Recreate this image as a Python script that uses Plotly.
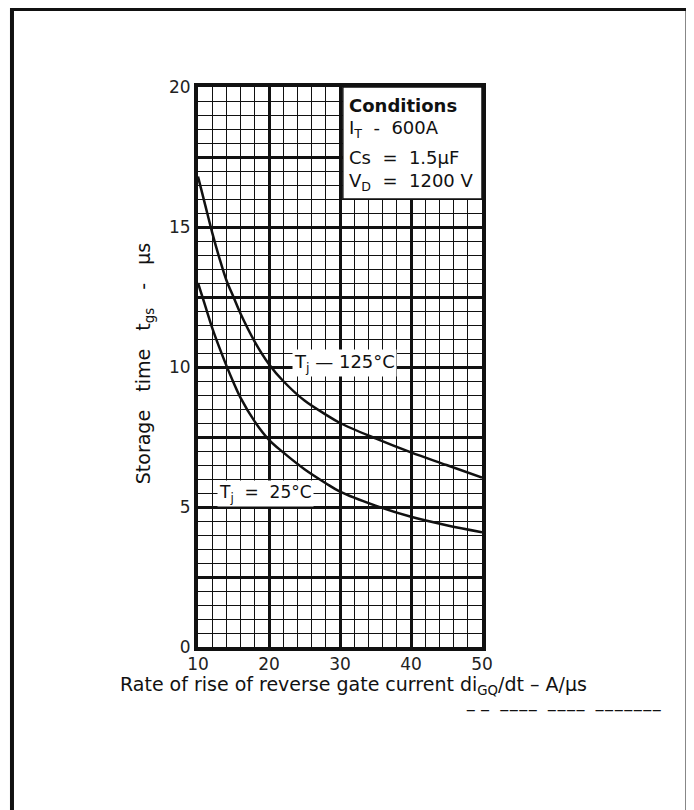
import plotly.graph_objects as go

# ---- data ----
x_125 = [10, 11, 12, 13, 14, 15, 16, 18, 20, 22, 25, 28, 30, 35, 40, 45, 50]
y_125 = [16.8, 15.8, 14.8, 13.9, 13.1, 12.5, 11.9, 10.9, 10.1, 9.5, 8.8, 8.3, 8.0, 7.45, 6.95, 6.5, 6.05]

x_25 = [10, 11, 12, 13, 14, 15, 16, 18, 20, 22, 25, 28, 30, 35, 40, 45, 50]
y_25 = [13.0, 12.2, 11.4, 10.7, 10.05, 9.45, 8.9, 8.05, 7.4, 6.95, 6.35, 5.85, 5.55, 5.05, 4.65, 4.35, 4.1]

x_tickvals = [10, 20, 30, 40, 50]
x_ticktext = ["10", "20", "30", "40", "50"]
y_tickvals = [0, 2.5, 5, 7.5, 10, 12.5, 15, 17.5, 20]
y_ticktext = ["0", "", "5", "", "10", "", "15", "", "20"]

NB = "\u00a0"
conditions = ["<b>Conditions</b>", "I<sub>T</sub> " + NB + "-" + NB + " 600A",
              "Cs " + NB + "=" + NB + " 1.5\u00b5F", "V<sub>D</sub> " + NB + "=" + NB + " 1200 V"]

FONT = "DejaVu Sans, Liberation Sans, Arial, sans-serif"
INK = "#111111"

fig = go.Figure()
fig.add_trace(go.Scatter(x=x_125, y=y_125, mode="lines", line=dict(color=INK, width=2.5, shape="spline"),
                         name="Tj = 125°C", showlegend=False))
fig.add_trace(go.Scatter(x=x_25, y=y_25, mode="lines", line=dict(color=INK, width=2.5, shape="spline"),
                         name="Tj = 25°C", showlegend=False))

axis_common = dict(showline=True, linecolor=INK, linewidth=4, mirror=True, ticks="",
                   showgrid=True, gridcolor=INK, gridwidth=2.5, zeroline=False,
                   tickfont=dict(family=FONT, size=17, color="#222"))
fig.update_xaxes(range=[10, 50], tickvals=x_tickvals, ticktext=x_ticktext,
                 minor=dict(dtick=2, tick0=10, showgrid=True, gridcolor=INK, gridwidth=1),
                 ticklabelstandoff=-1, **axis_common)
fig.update_yaxes(range=[0, 20], tickvals=y_tickvals, ticktext=y_ticktext,
                 minor=dict(dtick=0.5, tick0=0, showgrid=True, gridcolor=INK, gridwidth=1),
                 ticklabelstandoff=0, **axis_common)

# Conditions box (white, covers grid)
fig.add_shape(type="rect", xref="x", yref="y", x0=30.4, x1=50, y0=16.0, y1=20,
              fillcolor="white", line=dict(color=INK, width=1.5), layer="above")
cond_y = [19.35, 18.5, 17.5, 16.6]
for txt, yy in zip(conditions, cond_y):
    fig.add_annotation(x=31.0, y=yy, xref="x", yref="y", text=txt, showarrow=False,
                       xanchor="left", yanchor="middle",
                       font=dict(family=FONT, size=18, color=INK))

# curve labels
fig.add_annotation(x=23.3, y=10.14, xref="x", yref="y", text="T<sub>j</sub> \u2014 125\u00b0C",
                   showarrow=False, xanchor="left", yanchor="middle", bgcolor="white",
                   font=dict(family=FONT, size=18, color=INK))
fig.add_annotation(x=12.7, y=5.5, xref="x", yref="y", text="T<sub>j</sub>  =  25\u00b0C",
                   showarrow=False, xanchor="left", yanchor="middle", bgcolor="white",
                   font=dict(family=FONT, size=17, color=INK))

# axis titles
fig.add_annotation(x=-0.19, y=0.505, xref="paper", yref="paper",
                   text="Storage" + NB * 2 + " time" + NB * 2 + " t<sub>gs</sub>" + NB * 2 + " -" + NB * 2 + " \u00b5s",
                   textangle=-90,
                   showarrow=False, xanchor="center", yanchor="middle",
                   font=dict(family=FONT, size=19, color=INK))
fig.add_annotation(x=0.546, y=-0.068, xref="paper", yref="paper",
                   text="Rate of rise of reverse gate current di<sub>GQ</sub>/dt \u2013 A/\u00b5s",
                   showarrow=False, xanchor="center", yanchor="middle",
                   font=dict(family=FONT, size=19, color=INK))
# cut-off line of text below the title (scan remnant)
fig.add_annotation(x=1.64, y=-0.113, xref="paper", yref="paper",
                   text="\u2012 \u2012  \u2012\u2012\u2012\u2012  \u2012\u2012\u2012\u2012  \u2012\u2012\u2012\u2012\u2012\u2012\u2012",
                   showarrow=False, xanchor="right", yanchor="middle",
                   font=dict(family=FONT, size=15, color=INK))

# outer frame
fig.add_shape(type="rect", xref="paper", yref="paper", x0=-0.655, x1=1.7236, y0=-0.35, y1=1.1393,
              line=dict(color=INK, width=4), fillcolor="rgba(0,0,0,0)", layer="above")

fig.update_layout(width=686, height=802, autosize=False,
                  margin=dict(l=190, r=212, t=79, b=163),
                  paper_bgcolor="white", plot_bgcolor="white",
                  font=dict(family=FONT, color=INK))

fig.write_html("out.html")
